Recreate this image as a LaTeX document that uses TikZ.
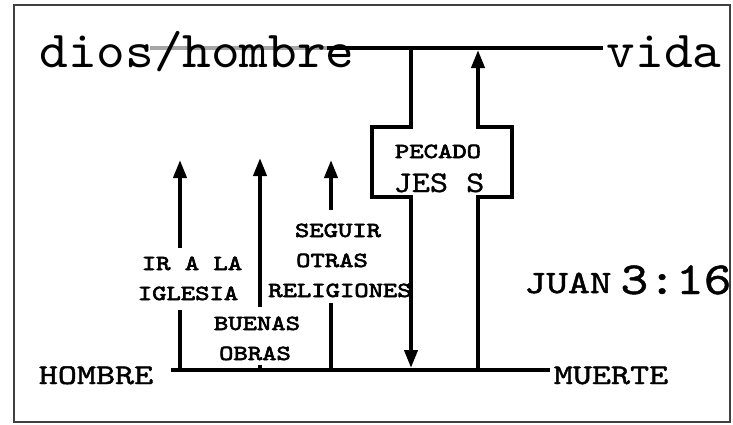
\documentclass[tikz,border=0pt]{standalone}
\usepackage{fontspec}
\usepackage{tikz}
\usetikzlibrary{arrows.meta}
\newfontfamily\courn{lmmono10-regular.otf}[FakeStretch=1.05]
\newfontfamily\courm{lmmono10-regular.otf}[FakeStretch=1.15, FakeBold=1]
\newfontfamily\courw{lmmono10-regular.otf}[FakeStretch=1.27, FakeBold=1.5]
\newfontfamily\courb{lmmono10-regular.otf}[FakeStretch=1.27, FakeBold=3]

\begin{document}
\begin{tikzpicture}[x=1pt,y=-1pt,
    bar/.style={line width=4pt, line join=miter},
    arr/.style={bar, -{Triangle[length=18pt,width=13pt]}},
    big/.style={font=\courn\fontsize{52}{52}\selectfont, anchor=base, inner sep=0pt},
    mid/.style={font=\courw\fontsize{28.6}{28.6}\selectfont, anchor=base, inner sep=0pt},
    jes/.style={font=\courm\fontsize{30}{30}\selectfont, anchor=base, inner sep=0pt},
    lab/.style={font=\courb\fontsize{21.5}{21.5}\selectfont, anchor=base, inner sep=0pt}]
        \useasboundingbox (0,0) rectangle (733,424);

        % frame
        \draw[line width=1.5pt, black!75] (14,5) rectangle (730,422);

        % top line (dios/hombre -- vida)
        \coordinate (topl) at (150,48);
        \coordinate (topm) at (327,48);
        \coordinate (topr) at (603,48);
        \draw[bar, gray!70] (topl) -- (topm);
        \draw[bar] (topm) -- (topr);

        % bottom line (hombre -- muerte)
        \coordinate (botl) at (171,370);
        \coordinate (botr) at (550,370);
        \draw[bar] (botl) -- (botr);

        % ways that fall short
        \coordinate (iglb) at (180,370); \coordinate (iglm) at (180,310);
        \coordinate (iglu) at (180,248); \coordinate (iglt) at (180,160);
        \draw[bar] (iglb) -- (iglm);
        \draw[arr] (iglu) -- (iglt);

        \coordinate (obrb) at (260,370); \coordinate (obrm) at (260,365);
        \coordinate (obru) at (260,307); \coordinate (obrt) at (260,158);
        \draw[bar] (obrb) -- (obrm);
        \draw[arr] (obru) -- (obrt);

        \coordinate (relb) at (331,370); \coordinate (relm) at (331,303);
        \coordinate (relu) at (331,210); \coordinate (relt) at (331,160);
        \draw[bar] (relb) -- (relm);
        \draw[arr] (relu) -- (relt);

        % cross: down from the top line, up to it
        \draw[arr] (411,48) -- (411,127) -- (372,127) -- (372,197) -- (411,197) -- (411,368);
        \draw[arr] (478,370) -- (478,197) -- (512,197) -- (512,127) -- (478,127) -- (478,50);

        % texts
        \node[big] (dios) at (197,67) {dios/hombre};
        \node[big] (vida) at (664,67) {vida};
        \node[mid] (hombre) at (96,384) {HOMBRE};
        \node[mid] (muerte) at (611,384) {MUERTE};
        \node[mid, font=\courw\fontsize{32.7}{32.7}\selectfont] (juan) at (568,293) {JUAN};
        \node[jes, font=\courm\fontsize{46}{46}\selectfont] (verso) at (676,294) {3:16};
        \node[lab] (pecado) at (438,158) {PECADO};
        \node[jes] (jesus) at (439,192) {JES S};

        \node[lab] (ira) at (192,270) {IR A LA};
        \node[lab] (iglesia) at (188,300) {IGLESIA};
        \node[lab] (buenas) at (257,330) {BUENAS};
        \node[lab] (obras) at (255,360) {OBRAS};
        \node[lab] (seguir) at (338,237) {SEGUIR};
        \node[lab] (otras) at (332,267) {OTRAS};
        \node[lab] (religiones) at (340,297) {RELIGIONES};
    \end{tikzpicture}
\end{document}
